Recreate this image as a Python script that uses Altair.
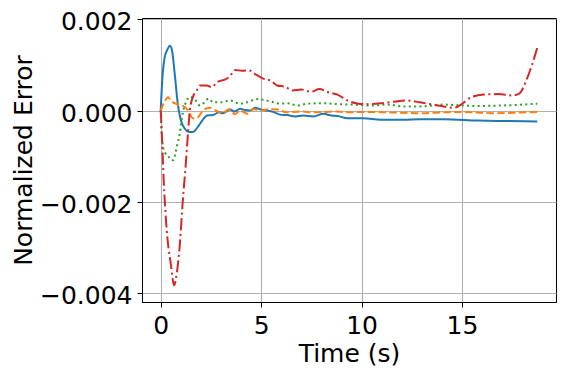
import altair as alt
import pandas as pd

# ---- data ----
blue_t = [0, 0.1, 0.2, 0.35, 0.45, 0.55, 0.7, 0.85, 1.0, 1.2, 1.4, 1.6, 1.85, 2.1, 2.3, 2.6, 2.9,
          3.1, 3.45, 3.7, 3.95, 4.2, 4.45, 4.7, 5.0, 5.3, 5.6, 5.95, 6.3, 6.7, 7.1, 7.6, 8.1, 8.5,
          8.8, 9.3, 10.1, 10.95, 12.1, 12.9, 14.1, 15.8, 17.0, 18.75]
blue_v = [0, 0.0008, 0.00117, 0.00135, 0.00142, 0.00135, 0.0008, 0.00015, -0.0002, -0.0004,
          -0.00047, -0.00047, -0.00036, -0.0002, -0.00011, -0.0001, -0.00004, -0.00006, 0.00002,
          -0.00002, 0.00004, 0.00001, 0.0, 0.00006, 0.00002, 0.0, -0.00003, -0.00009, -0.0001,
          -0.00013, -0.00011, -0.00013, -0.00007, -0.00011, -0.00012, -0.00017, -0.00017, -0.0002,
          -0.0002, -0.00019, -0.00019, -0.00022, -0.00023, -0.00024]

orange_t = [0, 0.2, 0.37, 0.5, 0.62, 0.87, 1.12, 1.37, 1.6, 1.85, 2.1, 2.45, 2.75, 3.1, 3.4, 3.7,
            3.95, 4.3, 4.6, 5.0, 5.45, 5.95, 6.2, 7.0, 7.6, 8.8, 9.3, 10.1, 11.3, 12.1, 12.9, 14.1,
            15.0, 16.6, 17.5, 18.75]
orange_v = [0, 0.0002, 0.00029, 0.00022, 0.00018, 0.00013, 0.0001, 0.0, -0.00017, -0.00015, 0.0,
            0.00006, 0.0, -0.00006, 0.00003, -0.00008, 0.0, -0.00007, 0.00003, 0.0, 0.00003,
            0.00002, -0.00004, -0.00002, -0.00004, -0.00002, -0.00004, -0.00003, -0.00004,
            -0.00005, -0.00006, -0.00004, -0.00003, -0.00006, -0.00005, -0.00003]

green_t = [0, 0.05, 0.12, 0.25, 0.37, 0.55, 0.65, 0.72, 0.83, 0.95, 1.1, 1.3, 1.45, 1.7, 1.95, 2.4,
           2.6, 3.0, 3.45, 3.95, 4.3, 4.8, 5.45, 5.95, 6.3, 6.8, 7.3, 8.1, 8.8, 9.6, 10.45, 11.3,
           12.1, 12.9, 14.1, 15.0, 15.8, 17.0, 18.75]
green_v = [0, -0.0005, -0.0008, -0.00095, -0.001, -0.00109, -0.00108, -0.00096, -0.00074, -0.0005,
           -0.00005, 0.00022, 0.0003, 0.00024, 0.00011, 0.00026, 0.00018, 0.00018, 0.00022,
           0.00015, 0.00018, 0.00025, 0.0002, 0.00015, 0.00016, 0.00011, 0.00015, 0.00016,
           0.00014, 0.00013, 0.00011, 0.00013, 0.00009, 0.00009, 0.00013, 0.00011, 0.0001,
           0.00011, 0.00015]

red_t = [0, 0.05, 0.15, 0.3, 0.5, 0.67, 0.8, 0.97, 1.08, 1.25, 1.37, 1.45, 1.6, 1.8, 1.95, 2.3,
         2.55, 2.8, 3.25, 3.45, 3.7, 4.05, 4.4, 4.7, 5.1, 5.45, 5.8, 6.2, 6.55, 7.0, 7.5, 7.9, 8.35,
         8.8, 9.3, 9.85, 10.35, 11.0, 11.7, 12.3, 12.9, 13.8, 14.6, 14.95, 15.45, 16.1, 16.8, 17.5,
         17.85, 18.2, 18.5, 18.75]
red_v = [0, -0.00044, -0.00153, -0.00262, -0.00335, -0.00383, -0.00357, -0.00284, -0.00211,
         -0.00117, -0.00044, 0.0, 0.00029, 0.00044, 0.00055, 0.00055, 0.00051, 0.00062, 0.00069,
         0.00075, 0.00089, 0.00087, 0.00088, 0.0008, 0.0007, 0.00066, 0.00055, 0.00052, 0.00044,
         0.00046, 0.00041, 0.00047, 0.0004, 0.00035, 0.00022, 0.00015, 0.00014, 0.00016, 0.0002,
         0.00022, 0.00018, 0.00011, 0.00006, 0.00013, 0.00029, 0.00035, 0.00036, 0.00033,
         0.00037, 0.00066, 0.00102, 0.00138]

x_ticks = [0, 5, 10, 15]
y_ticks = [-0.004, -0.002, 0.0, 0.002]

FONT = "DejaVu Sans"
xscale = alt.Scale(domain=[-0.93, 19.68], nice=False, zero=False)
yscale = alt.Scale(domain=[-0.004197, 0.002028], nice=False, zero=False)

xaxis = alt.Axis(title="Time (s)", values=x_ticks, format="d", grid=True)
yaxis = alt.Axis(title="Normalized Error", values=y_ticks, format=".3f", grid=True)


def series(t, v, color, dash):
    df = pd.DataFrame({"t": t, "v": v})
    mark_kw = dict(color=color, strokeWidth=2, interpolate="monotone", clip=True)
    if dash:
        mark_kw["strokeDash"] = dash
    return alt.Chart(df).mark_line(**mark_kw).encode(
        x=alt.X("t:Q", scale=xscale, axis=xaxis),
        y=alt.Y("v:Q", scale=yscale, axis=yaxis),
    )


chart = alt.layer(
    series(blue_t, blue_v, "#1f77b4", None),
    series(orange_t, orange_v, "#ff7f0e", [7.5, 3.3]),
    series(green_t, green_v, "#2ca02c", [2, 3.3]),
    series(red_t, red_v, "#d62728", [12, 3.5, 2, 3.5]),
).properties(
    width=414,
    height=284,
    autosize=alt.AutoSizeParams(type="none"),
    padding={"left": 134, "top": 10, "right": 1, "bottom": 65},
).configure_view(
    stroke="black", strokeWidth=1
).configure_axis(
    labelFont=FONT, titleFont=FONT, labelFontSize=25, titleFontSize=25,
    titleFontWeight="normal", labelColor="black", titleColor="black",
    domainColor="black", domainWidth=1, tickColor="black", tickSize=5, tickWidth=1,
    gridColor="#b0b0b0", gridWidth=1.1, labelPadding=6,
).configure_axisY(
    labelPadding=5, titlePadding=3, labelOffset=2.5
).configure_axisX(
    titlePadding=3
)

chart.save("out.html", embed_options={"renderer": "svg", "actions": False})
